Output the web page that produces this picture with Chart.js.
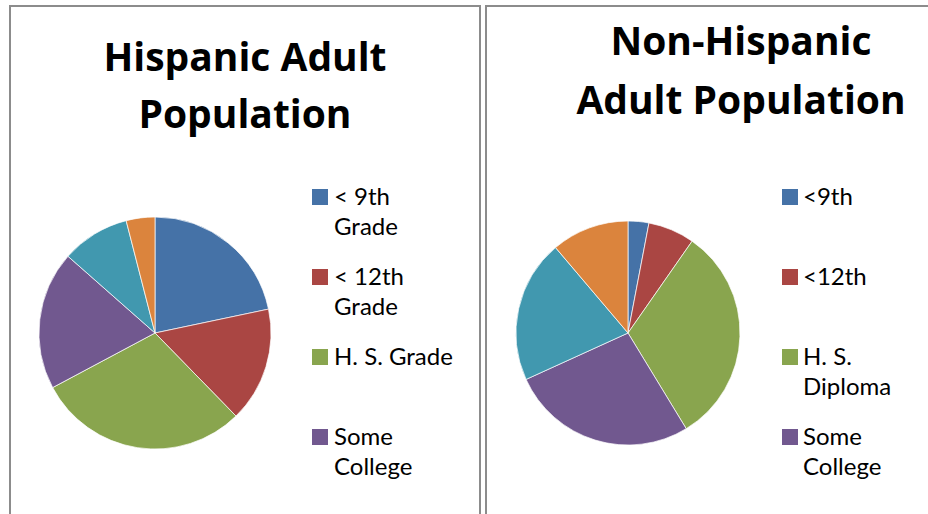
<!DOCTYPE html>
<html>
<head>
<meta charset="utf-8">
<script src="https://cdn.jsdelivr.net/npm/chart.js@4/dist/chart.umd.min.js"></script>
<style>
  body { margin: 0; width: 928px; height: 514px; overflow: hidden; background: #fff; position: relative; font-family: Lato, "Open Sans", sans-serif; }
  .panel { position: absolute; box-sizing: border-box; border: 2px solid #8c8c8c; height: 600px; }
  .title { position: absolute; text-align: center; font-family: "Open Sans", Lato, sans-serif; font-weight: bold; font-size: 39px; line-height: 57px; color: #000; white-space: nowrap; }
  .pie { position: absolute; width: 240px; height: 240px; }
  .legend { position: absolute; }
  .item { position: absolute; left: 0; font-size: 24px; line-height: 30px; color: #000; white-space: nowrap; }
  .item .box { position: absolute; left: 0; top: 8px; width: 16px; height: 16px; }
  .item .txt { position: absolute; top: 0; }
</style>
</head>
<body>
<div class="panel" style="left:9px; top:5px; width:472px;"></div>
<div class="panel" style="left:485px; top:5px; width:520px;"></div>

<div class="title" id="titleLeft" style="left:10px; top:27px; width:470px;"></div>
<div class="title" id="titleRight" style="left:486px; top:10px; width:510px; line-height:59px;"></div>

<div class="pie" style="left:35px; top:213px;"><canvas id="hispChart"></canvas></div>
<div class="pie" style="left:508px; top:213px;"><canvas id="nonHispChart"></canvas></div>

<div class="legend" id="legendLeft" style="left:312px; top:181px;"></div>
<div class="legend" id="legendRight" style="left:782px; top:181px;"></div>

<script>
// categories (only the first four show in the visible legend)
var hispLabels = [['< 9th', 'Grade'], ['< 12th', 'Grade'], ['H. S. Grade'], ['Some', 'College'], ['College Graduate'], ['Graduate Degree']];
var nonHispLabels = [['<9th'], ['<12th'], ['H. S.', 'Diploma'], ['Some', 'College'], ['College Graduate'], ['Graduate Degree']];

// share of adult population, %
var hispValues = [21.7, 16.0, 29.5, 19.3, 9.5, 4.0];
var nonHispValues = [3.0, 6.7, 31.6, 26.9, 20.6, 11.2];

var hispTitle = ['Hispanic Adult', 'Population'];
var nonHispTitle = ['Non-Hispanic', 'Adult Population'];

var sliceColors = ['#4572A7', '#AA4643', '#89A54E', '#71588F', '#4198AF', '#DB843D'];
var legendCount = 4;

function makePie(id, labels, values, radius) {
    var ctx = document.getElementById(id).getContext('2d');
    return new Chart(ctx, {
        type: 'pie',
        data: {
            labels: labels,
            datasets: [{
                data: values,
                backgroundColor: sliceColors,
                borderColor: 'rgba(255,255,255,0.7)',
                borderWidth: 1,
                hoverOffset: 0,
                radius: radius
            }]
        },
        options: {
            responsive: true,
            maintainAspectRatio: false,
            animation: false,
            layout: { padding: 0 },
            plugins: {
                legend: { display: false }
            }
        }
    });
}

function makeLegend(id, labels) {
    var el = document.getElementById(id);
    for (var i = 0; i < legendCount; i++) {
        var item = document.createElement('div');
        item.className = 'item';
        item.style.top = (i * 80) + 'px';
        var box = document.createElement('div');
        box.className = 'box';
        box.style.background = sliceColors[i];
        var txt = document.createElement('div');
        txt.className = 'txt';
        txt.style.left = (id === 'legendLeft' ? 22 : 21) + 'px';
        txt.innerHTML = labels[i].join('<br>');
        item.appendChild(box);
        item.appendChild(txt);
        el.appendChild(item);
    }
}

document.getElementById('titleLeft').innerHTML = hispTitle.join('<br>');
document.getElementById('titleRight').innerHTML = nonHispTitle.join('<br>');

makePie('hispChart', hispLabels, hispValues, 116);
makePie('nonHispChart', nonHispLabels, nonHispValues, 112);
makeLegend('legendLeft', hispLabels);
makeLegend('legendRight', nonHispLabels);
</script>
</body>
</html>
